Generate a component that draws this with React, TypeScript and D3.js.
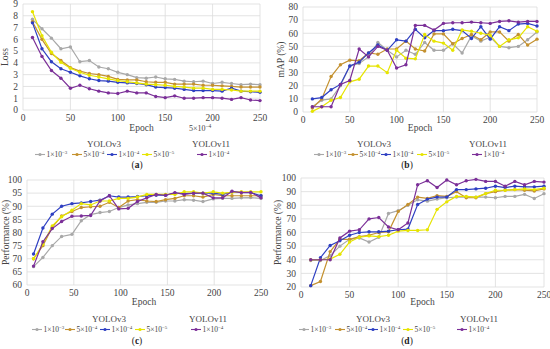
import React from "react";
import * as d3 from "d3";

const epochs = [10,20,30,40,50,60,70,80,90,100,110,120,130,140,150,160,170,180,190,200,210,220,230,240,250];
const epochsC = [7,17,27,37,48,58,68,78,88,98,108,118,128,138,148,158,168,178,188,199,209,219,229,239,250];

const seriesNames = ["YOLOv3 1e-3", "YOLOv3 5e-4", "YOLOv3 1e-4", "YOLOv3 5e-5", "YOLOv11 1e-4"];
const legendMant = ["1", "5", "1", "5", "1"];
const legendExp = ["−3", "−4", "−4", "−5", "−4"];
const colors = ["#a8a8a8", "#c4912f", "#2e3fc2", "#e6e400", "#7b2f98"];

// (a) Loss
const lossGray = [7.7,6.9,6.1,5.2,5.35,4.1,4.2,3.65,3.5,3.2,3.0,2.75,2.7,2.8,2.65,2.6,2.45,2.4,2.45,2.25,2.35,2.25,2.15,2.2,2.15];
const lossOrange = [7.5,6.0,4.8,4.2,3.6,3.3,3.1,3.0,2.85,2.6,2.55,2.55,2.4,2.35,2.35,2.2,2.2,2.2,2.1,2.1,2.05,2.0,1.95,1.95,1.95];
const lossBlue = [7.4,5.2,4.1,3.5,3.2,2.9,2.65,2.5,2.45,2.35,2.3,2.25,2.15,1.95,1.9,1.85,1.75,1.65,1.65,1.65,1.6,1.85,1.6,1.55,1.5];
const lossYellow = [8.35,6.3,4.9,4.05,3.55,3.2,2.95,2.8,2.65,2.5,2.4,2.3,2.2,2.15,2.1,2.0,1.95,1.85,1.85,1.75,1.75,1.7,1.6,1.6,1.6];
const lossPurple = [6.15,4.55,3.35,2.7,1.85,2.1,1.8,1.6,1.45,1.4,1.6,1.45,1.45,1.15,1.05,1.2,1.0,1.0,1.05,1.05,1.0,0.9,1.05,0.85,0.8];

// (b) mAP
const mapGray = [4,9,10,20,35,37,42,53,47,42,47,44,53,47,47,52,45,58,54,57,50,49,50,55,61];
const mapOrange = [3,10,27,36,39.5,39,45,44,48,48,54,48,46.5,59.5,59.5,52,56,59,55,61,61,54,59,51,55.5];
const mapBlue = [10,11,17,21,35,38,45,51,47,55,54,63,56.5,62,62,63,62,56,65,55.5,65,62,67,67.5,65.5];
const mapYellow = [0.5,4,9,11,23,25,35,35,30,47,41,40.5,59,54,52.5,47,62.5,61.5,60,58.5,50,55,56.5,65,61.5];
const mapPurple = [4,4,4,21,24,48,42,50,47,33.5,36,66,66,62.5,67.5,68,68,68.5,68,67.5,69,69.5,68.5,69,69];

// (c) Performance
const cGray = [67,70.5,75,78.5,79.3,84.5,86.8,87.6,88,89.5,90.5,91,91.5,91.5,92,92,92.5,92.3,91.8,92.8,93,93,93.2,93.3,93];
const cOrange = [70,75,82,86.3,88,89.5,89.8,90,91.5,89.5,92,92.5,92,91.8,92.5,93,94,94,93.5,94.5,94,94,94,94,94];
const cBlue = [71.8,81.7,87,90,91,91.3,91.8,92.3,94,93.5,93.5,93.7,94,94.2,94.2,95,94.8,95,95,95,94.5,95.5,95.3,95.2,94];
const cYellow = [70,75.5,82.5,86,88.5,91,90.5,92,92,93,93,93.5,94.5,94.5,94.5,94.5,95.5,95.5,95,95.5,95,95.3,95.5,95.5,95.5];
const cPurple = [67.2,76.5,81.5,84.2,86.2,86.3,86.5,92,94,89,89.2,91.8,93.2,94.5,94.2,95.2,94.5,95,95,93.2,93.2,95.7,95.2,95.3,93.2];

// (d) Performance
const dGray = [39.5,39.5,43,50,55,56,53,56.5,74,76,80,84,83,84.5,85.5,86,86,86,86,85.5,86.5,86.5,88,85,88.5];
const dOrange = [21,24,46,55,55,57,58,60,60.5,75.5,80.5,86,85,87,86.5,90,85.5,85.5,88.5,90,91,91.5,91,90.5,92];
const dBlue = [21,41.5,50.5,54,58,60,60.5,60.5,61,62,62.5,80.5,84.5,86,86,91.5,91.5,92,92.5,94,93,94,93.5,93.5,94];
const dYellow = [40,40,40.5,44,53,56.5,57.5,57,58,61,61.5,61.5,62,77,82.5,86.5,86.5,86,88.5,91,91,91.5,92,91.5,92.5];
const dPurple = [40,40,40,56,61,62,70,71,64,62,67,95,98,93,98.5,95,98,99,97.5,97.5,94,97.5,95,97.5,97];

const xTicks = [0, 50, 100, 150, 200, 250];
const lossTicks = [0,1,2,3,4,5,6,7,8,9];
const mapTicks = [0,10,20,30,40,50,60,70,80];
const cTicks = [60,65,70,75,80,85,90,95,100];
const dTicks = [20,30,40,50,60,70,80,90,100];

const FONT = "'Liberation Serif', 'DejaVu Serif', serif";

type PanelProps = {
  x0: number; x1: number; y0: number; y1: number;
  yDomain: [number, number]; yTicks: number[];
  xs: number[]; data: number[][];
  yLabel: string; yLabelX: number;
  letter: string; letterX: number;
  v3X: number; v11X: number;
  legendXs: number[];
  epochY: number; v3Y: number; legendY: number; letterY: number;
};

function Panel(p: PanelProps) {
  const x = d3.scaleLinear().domain([0, 250]).range([p.x0, p.x1]);
  const y = d3.scaleLinear().domain(p.yDomain).range([p.y1, p.y0]);
  const line = d3.line<number>().x((_, i) => x(p.xs[i])).y((v) => y(v));
  const order = [0, 1, 2, 3, 4];
  return (
    <g fontFamily={FONT} fill="#333">
      {p.yTicks.map((t) => (
        <line key={"h" + t} x1={p.x0} x2={p.x1} y1={y(t)} y2={y(t)} stroke="#dcdcdc" strokeWidth={0.8} />
      ))}
      {xTicks.map((t) => (
        <line key={"v" + t} x1={x(t)} x2={x(t)} y1={p.y0} y2={p.y1} stroke="#dcdcdc" strokeWidth={0.8} />
      ))}
      {p.yTicks.map((t) => (
        <text key={"yt" + t} x={p.x0 - 5} y={y(t) + 3.3} fontSize={9.5} textAnchor="end" fill="#444">{t}</text>
      ))}
      {xTicks.map((t) => (
        <text key={"xt" + t} x={x(t)} y={p.y1 + 11} fontSize={9.5} textAnchor="middle" fill="#444">{t}</text>
      ))}
      <text x={(p.x0 + p.x1) / 2} y={p.epochY} fontSize={9.5} textAnchor="middle" fill="#444">Epoch</text>
      <text transform={`translate(${p.yLabelX},${(p.y0 + p.y1) / 2}) rotate(-90)`} fontSize={9.5} textAnchor="middle" fill="#444">{p.yLabel}</text>
      {order.map((k) => (
        <g key={"s" + k}>
          <path d={line(p.data[k]) || ""} fill="none" stroke={colors[k]} strokeWidth={1.2} />
          {p.data[k].map((v, i) => (
            <circle key={i} cx={x(p.xs[i])} cy={y(v)} r={1.7} fill={colors[k]} />
          ))}
        </g>
      ))}
      <text x={p.v3X} y={p.v3Y} fontSize={9} textAnchor="middle" fill="#444">YOLOv3</text>
      <text x={p.v11X} y={p.v3Y} fontSize={9} textAnchor="middle" fill="#444">YOLOv11</text>
      {order.map((k) => {
        const lx = p.legendXs[k];
        return (
          <g key={"l" + k}>
            <line x1={lx} x2={lx + 10} y1={p.legendY - 2.5} y2={p.legendY - 2.5} stroke={colors[k]} strokeWidth={1.1} />
            <circle cx={lx + 5} cy={p.legendY - 2.5} r={1.6} fill={colors[k]} />
            <text x={lx + 11.5} y={p.legendY} fontSize={7.5} fill="#444">
              {legendMant[k]}×10<tspan fontSize={5} dy={-3}>{legendExp[k]}</tspan>
            </text>
          </g>
        );
      })}
      <text x={p.letterX} y={p.letterY} fontSize={9.5} textAnchor="middle" fill="#222">
        (<tspan fontWeight="bold">{p.letter}</tspan>)
      </text>
    </g>
  );
}

export default function App() {
  return (
    <>
      <style>{`body{margin:0}`}</style>
      <svg width={550} height={349} style={{ display: "block", background: "#fff" }}>
        <Panel
          x0={23} x1={260} y0={4} y1={110}
          yDomain={[0, 9]} yTicks={lossTicks}
          xs={epochs} data={[lossGray, lossOrange, lossBlue, lossYellow, lossPurple]}
          yLabel="Loss" yLabelX={8}
          letter="a" letterX={137}
          v3X={104} v11X={211}
          legendXs={[35, 72, 107, 142, 197]}
          epochY={131} v3Y={147} legendY={157} letterY={168}
        />
        <text x={189} y={131} fontSize={8} fontFamily={FONT} fill="#444">5×10<tspan fontSize={5.5} dy={-3}>−4</tspan></text>
        <Panel
          x0={303} x1={537} y0={7} y1={112}
          yDomain={[0, 80]} yTicks={mapTicks}
          xs={epochs} data={[mapGray, mapOrange, mapBlue, mapYellow, mapPurple]}
          yLabel="mAP (%)" yLabelX={284}
          letter="b" letterX={407}
          v3X={374} v11X={488}
          legendXs={[314, 348, 381, 417, 472]}
          epochY={131} v3Y={147} legendY={157} letterY={168}
        />
        <Panel
          x0={27} x1={261} y0={180} y1={285}
          yDomain={[60, 100]} yTicks={cTicks}
          xs={epochsC} data={[cGray, cOrange, cBlue, cYellow, cPurple]}
          yLabel="Performance (%)" yLabelX={9}
          letter="c" letterX={137}
          v3X={109} v11X={208}
          legendXs={[32, 65, 100, 135, 191]}
          epochY={305} v3Y={322} legendY={332} letterY={344}
        />
        <Panel
          x0={301} x1={544} y0={178} y1={287}
          yDomain={[20, 100]} yTicks={dTicks}
          xs={epochs} data={[dGray, dOrange, dBlue, dYellow, dPurple]}
          yLabel="Performance (%)" yLabelX={281}
          letter="d" letterX={407}
          v3X={373} v11X={479}
          legendXs={[299, 335, 368, 403, 457]}
          epochY={305} v3Y={322} legendY={332} letterY={344}
        />
      </svg>
    </>
  );
}
